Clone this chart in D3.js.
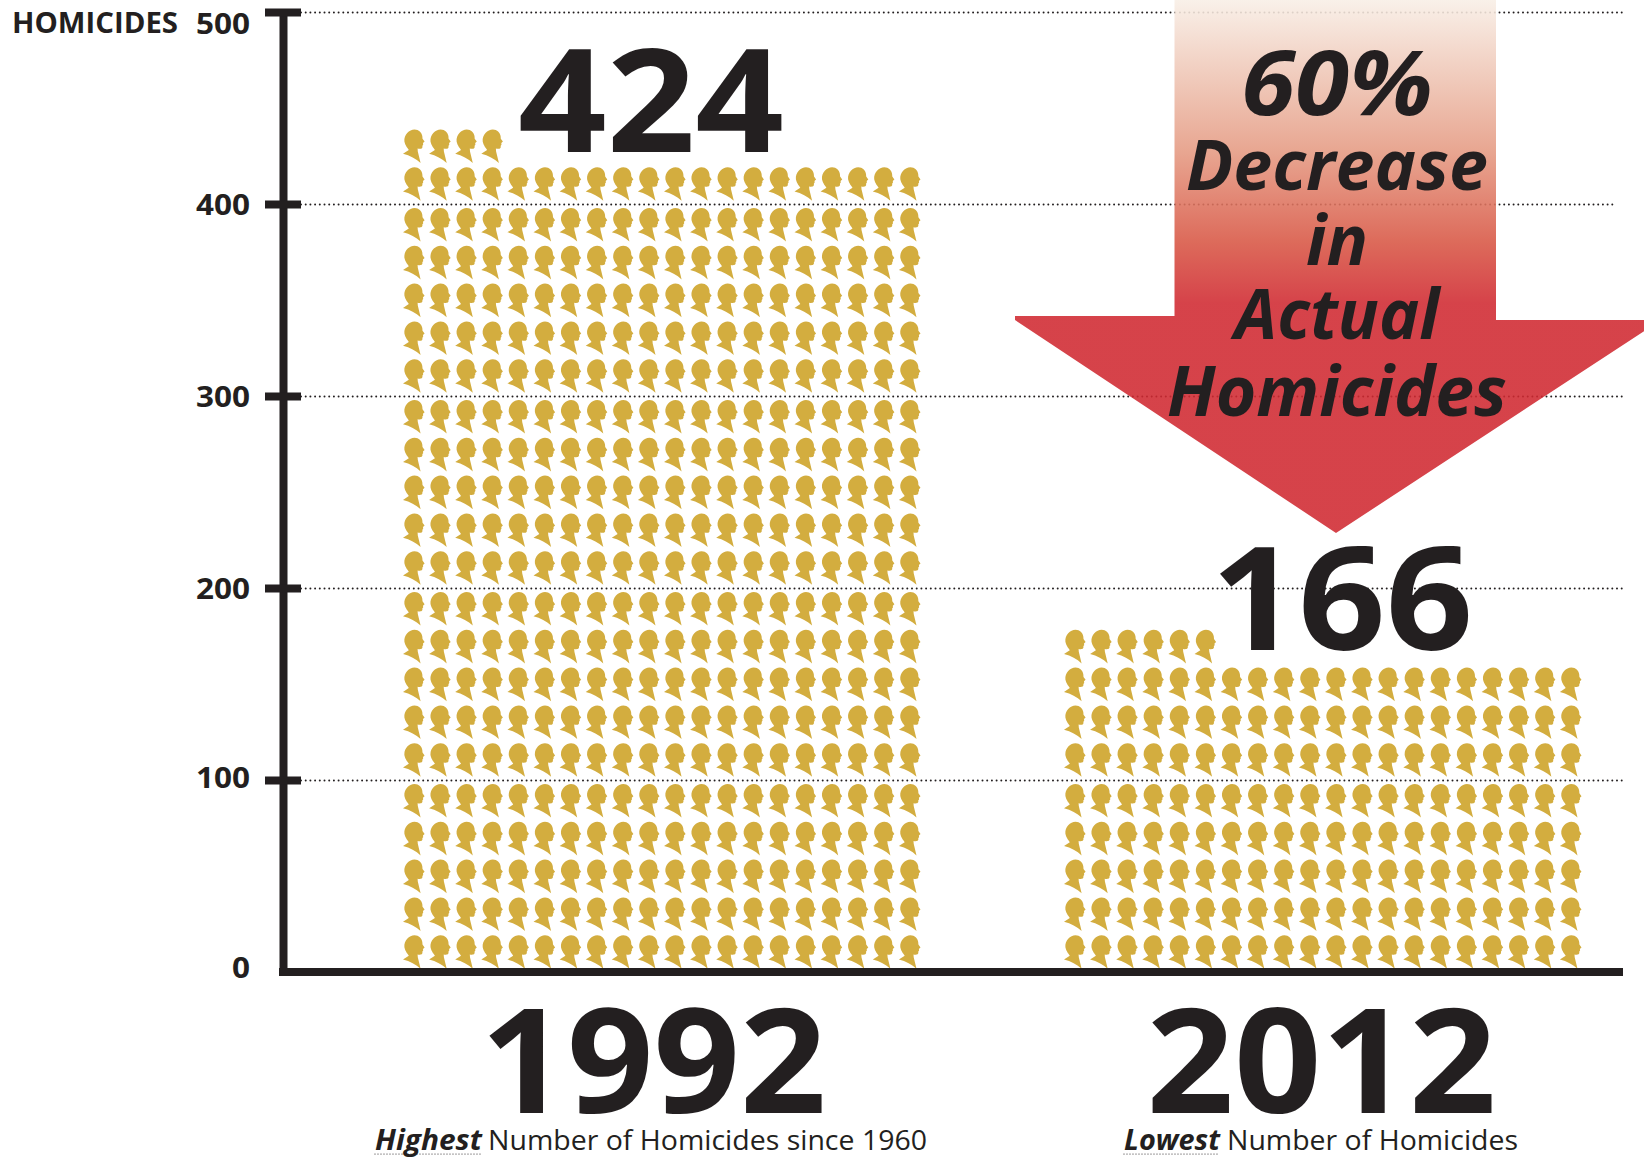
<!DOCTYPE html>
<html>

<head>
    <meta charset="utf-8">

    <!-- Load d3.js -->
    <script src="https://d3js.org/d3.v7.min.js"></script>
    <style type="text/css">
        html, body {
            margin: 0;
            padding: 0;
            background: white;
        }

        svg {
            display: block;
        }

        text {
            font-family: "Open Sans", sans-serif;
            fill: #231f20;
        }

        .grid line {
            stroke: #231f20;
            stroke-width: 2;
            stroke-linecap: round;
            stroke-dasharray: 0 4.7;
        }

        .yaxis text {
            font-size: 28px;
            font-weight: 700;
        }

        .xaxis text {
            font-size: 146px;
            font-weight: 700;
        }

        .callout {
            font-weight: 700;
            font-style: italic;
            text-anchor: middle;
        }

        .note {
            font-size: 28px;
        }
    </style>
</head>

<body>

    <div id="chart"></div>
    <script>

        // each figure stands for one homicide
        const years = ["1992", "2012"];
        const homicides = [424, 166];
        const yTicks = [0, 100, 200, 300, 400, 500];
        const calloutLines = ["60%", "Decrease", "in", "Actual", "Homicides"];
        const noteLead = ["Highest", "Lowest"];
        const noteRest = ["Number of Homicides since 1960", "Number of Homicides"];

        const perRow = 20, rowsPerBlock = 5;
        const colStep = 26.1, rowStep = 37.8;
        const ink = "#231f20";

        const width = 1644, height = 1159;

        const svg = d3.select("#chart")
            .append("svg")
            .attr("width", width)
            .attr("height", height);

        const y = d3.scaleLinear().domain([0, 500]).range([972, 12]);
        const x = d3.scalePoint().domain(years).range([661, 1322]);

        // dotted gridlines
        svg.append("g")
            .attr("class", "grid")
            .attr("transform", "translate(301,0)")
            .call(d3.axisRight(y).tickValues(yTicks.slice(1)).tickSize(1324).tickFormat(""))
            .call(g => g.select(".domain").remove())
            .selectAll("line")
            .attr("x2", d => d === 400 ? 1315 : 1324);

        // arrow, slightly see-through so the gridlines still show behind it
        const defs = svg.append("defs");
        const grad = defs.append("linearGradient")
            .attr("id", "fade")
            .attr("gradientUnits", "userSpaceOnUse")
            .attr("x1", 0).attr("y1", 0)
            .attr("x2", 0).attr("y2", 303);
        grad.append("stop").attr("offset", 0).attr("stop-color", "#f8efe6");
        grad.append("stop").attr("offset", 0.5).attr("stop-color", "#e59a82");
        grad.append("stop").attr("offset", 0.8).attr("stop-color", "#d85644");
        grad.append("stop").attr("offset", 1).attr("stop-color", "#d02931");

        svg.append("path")
            .attr("d", "M1174.5,0L1496,0L1496,320L1661,320L1336,533L1015,320L1015,316L1174.5,316Z")
            .attr("fill", "url(#fade)")
            .attr("opacity", 0.88);

        // one head silhouette, about 21 x 33 px
        const headPath = "M0,24.3L5.8,20.5C4.8,18.5 2.6,17 1.4,12C0.8,5 6.2,0 11.5,0C16,0 18.6,3 19.3,6.7"
            + "L19.5,9.3L21.6,12.2L20,13.7L20.2,15.4L19.4,16.3L19.4,18C18.4,19.8 16.4,19.5 14.6,19.2L14.8,22L17.6,33.6"
            + "C13,29.3 7,26 0,24.3Z";

        // the figures stack up in blocks of 100, so a block fills one axis step
        const people = years.flatMap((year, i) => d3.range(homicides[i]).map(n => ({
            year: year,
            col: n % perRow,
            row: Math.floor(n / perRow)
        })));

        svg.append("g")
            .selectAll("path")
            .data(people)
            .join("path")
            .attr("d", headPath)
            .attr("fill", "#d3ad3f")
            .attr("transform", d => {
                const block = Math.floor(d.row / rowsPerBlock);
                const k = d.row % rowsPerBlock;
                const left = x(d.year) - 258 + d.col * colStep;
                const bottom = y(block * 100) - 3.5 - k * rowStep;
                return `translate(${left},${bottom - 33.3})`;
            });

        // y axis with the thick ticks crossing the line
        const yAxis = svg.append("g")
            .attr("class", "yaxis")
            .attr("transform", "translate(283,0)")
            .call(d3.axisLeft(y).tickValues(yTicks).tickSize(18).tickSizeOuter(0));
        yAxis.select(".domain")
            .attr("stroke", ink)
            .attr("stroke-width", 8);
        yAxis.selectAll(".tick line")
            .attr("stroke", ink)
            .attr("stroke-width", 8)
            .attr("x2", -18)
            .attr("x1", 18)
            .filter(d => d === 0).remove();
        yAxis.selectAll(".tick text")
            .attr("x", -33)
            .attr("dy", null)
            .attr("y", d => d === 500 ? 21 : d === 0 ? 5 : d === 100 ? 7 : 10)
            .attr("textLength", d => d === 0 ? 18 : 54)
            .attr("lengthAdjust", "spacingAndGlyphs")
            .style("fill", ink);

        // baseline and the big year labels
        const xAxis = svg.append("g")
            .attr("class", "xaxis")
            .attr("transform", `translate(0,${y(0)})`)
            .call(d3.axisBottom(x).tickSize(0));
        xAxis.select(".domain")
            .attr("d", "M279,0H1623")
            .attr("stroke", ink)
            .attr("stroke-width", 8);
        xAxis.selectAll(".tick text")
            .attr("dy", null)
            .attr("y", 141)
            .attr("x", d => d === "1992" ? -8 : -1)
            .attr("textLength", d => d === "1992" ? 346 : 350)
            .attr("lengthAdjust", "spacingAndGlyphs")
            .style("fill", ink);

        // totals above each stack
        const totalX = [651, 1342], totalBase = [152, 650], totalW = [266, 262];
        svg.selectAll(".total")
            .data(homicides)
            .join("text")
            .attr("class", "total")
            .attr("x", (d, i) => totalX[i])
            .attr("y", (d, i) => totalBase[i])
            .attr("text-anchor", "middle")
            .attr("font-size", 144)
            .attr("font-weight", 700)
            .attr("textLength", (d, i) => totalW[i])
            .attr("lengthAdjust", "spacingAndGlyphs")
            .text(d => d);

        // text on the arrow
        const lineBase = [115, 190, 265, 339, 416];
        const lineSize = [90, 70, 70, 70, 70];
        const lineWidth = [192, 302, 62, 205, 340];
        svg.selectAll(".callout")
            .data(calloutLines)
            .join("text")
            .attr("class", "callout")
            .attr("x", 1337)
            .attr("y", (d, i) => lineBase[i])
            .attr("font-size", (d, i) => lineSize[i])
            .attr("textLength", (d, i) => lineWidth[i])
            .attr("lengthAdjust", "spacingAndGlyphs")
            .text(d => d);

        // axis title
        svg.append("text")
            .attr("x", 12)
            .attr("y", 33)
            .attr("font-size", 28)
            .attr("font-weight", 700)
            .attr("textLength", 166)
            .attr("lengthAdjust", "spacingAndGlyphs")
            .text("HOMICIDES");

        // notes under the years
        const leadX = [375, 1124], leadW = [107, 96];
        const restX = [488, 1227], restW = [439, 291];
        noteLead.forEach((lead, i) => {
            svg.append("text")
                .attr("class", "note")
                .attr("x", leadX[i])
                .attr("y", 1150)
                .attr("font-weight", 700)
                .attr("font-style", "italic")
                .attr("textLength", leadW[i])
                .attr("lengthAdjust", "spacingAndGlyphs")
                .text(lead);
            svg.append("text")
                .attr("class", "note")
                .attr("x", restX[i])
                .attr("y", 1150)
                .attr("textLength", restW[i])
                .attr("lengthAdjust", "spacingAndGlyphs")
                .text(noteRest[i]);
            svg.append("line")
                .attr("x1", leadX[i])
                .attr("x2", leadX[i] + leadW[i])
                .attr("y1", 1154)
                .attr("y2", 1154)
                .attr("stroke", ink)
                .attr("stroke-width", 1.2)
                .attr("stroke-linecap", "round")
                .attr("stroke-dasharray", "0 3");
        });
    </script>

</body>

</html>
